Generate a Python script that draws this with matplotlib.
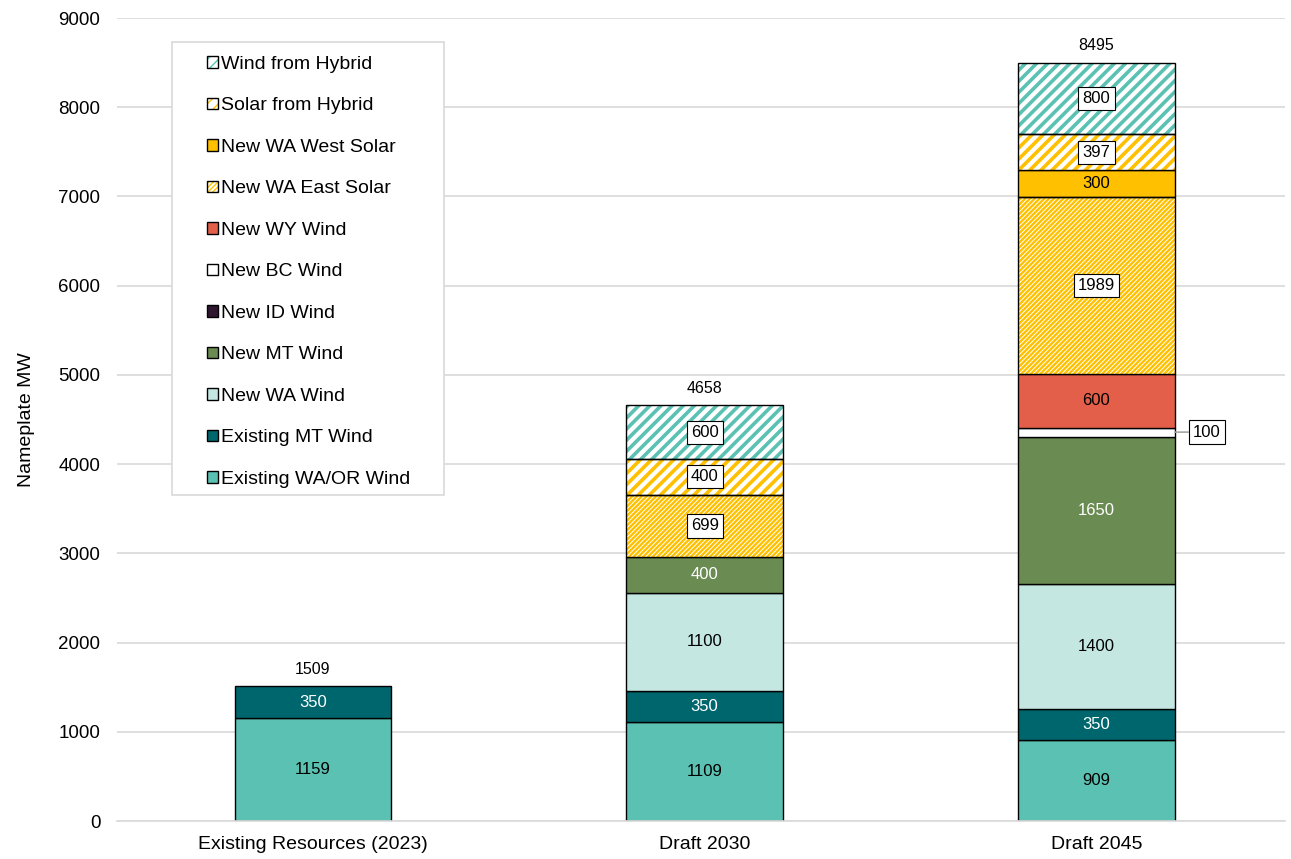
import numpy as np
import matplotlib.pyplot as plt
from matplotlib.patches import Rectangle

plt.rcParams['font.family'] = ['Liberation Sans', 'DejaVu Sans']

scenarios = ['Existing Resources (2023)', 'Draft 2030', 'Draft 2045']

# nameplate MW per resource, one value per scenario
existing_wa_or_wind = [1159, 1109, 909]
existing_mt_wind = [350, 350, 350]
new_wa_wind = [0, 1100, 1400]
new_mt_wind = [0, 400, 1650]
new_id_wind = [0, 0, 0]
new_bc_wind = [0, 0, 100]
new_wy_wind = [0, 0, 600]
new_wa_east_solar = [0, 699, 1989]
new_wa_west_solar = [0, 0, 300]
solar_from_hybrid = [0, 400, 397]
wind_from_hybrid = [0, 600, 800]

series = [
    ('Existing WA/OR Wind', existing_wa_or_wind),
    ('Existing MT Wind', existing_mt_wind),
    ('New WA Wind', new_wa_wind),
    ('New MT Wind', new_mt_wind),
    ('New ID Wind', new_id_wind),
    ('New BC Wind', new_bc_wind),
    ('New WY Wind', new_wy_wind),
    ('New WA East Solar', new_wa_east_solar),
    ('New WA West Solar', new_wa_west_solar),
    ('Solar from Hybrid', solar_from_hybrid),
    ('Wind from Hybrid', wind_from_hybrid),
]

# colour, hatch, hatch width, label colour, boxed label
styles = {
    'Existing WA/OR Wind': ('#5BC2B3', None, 0, 'black', False),
    'Existing MT Wind': ('#00666E', None, 0, 'white', False),
    'New WA Wind': ('#C4E7E2', None, 0, 'black', False),
    'New MT Wind': ('#6A8B52', None, 0, 'white', False),
    'New ID Wind': ('#2F1730', None, 0, 'white', False),
    'New BC Wind': ('#FFFFFF', None, 0, 'black', False),
    'New WY Wind': ('#E35F4A', None, 0, 'black', False),
    'New WA East Solar': ('#FFC000', '///////', 1.7, 'black', True),
    'New WA West Solar': ('#FFC000', None, 0, 'black', False),
    'Solar from Hybrid': ('#FFC000', '///', 2.6, 'black', True),
    'Wind from Hybrid': ('#5BC2B3', '///', 2.6, 'black', True),
}


def set_hatch_width(patches, lw):
    for p in patches:
        if hasattr(p, 'set_hatch_linewidth'):
            p.set_hatch_linewidth(lw)
        else:
            plt.rcParams['hatch.linewidth'] = lw


fig = plt.figure(figsize=(12.91, 8.59), dpi=100)
ax = fig.add_axes([0.0906, 0.0442, 0.9044, 0.9348])

x = np.arange(len(scenarios))
width = 0.4
bottom = np.zeros(len(scenarios))
handles = []
for name, vals in series:
    vals = np.array(vals, dtype=float)
    color, hatch, hlw, tcolor, boxed = styles[name]
    m = vals > 0
    if hatch:
        hb = ax.bar(x[m], vals[m], width, bottom=bottom[m], color='white', edgecolor=color,
                    hatch=hatch, linewidth=0, zorder=2)
        set_hatch_width(hb.patches, hlw)
        ax.bar(x[m], vals[m], width, bottom=bottom[m], fill=False, edgecolor='black',
               linewidth=1, zorder=3)
        hp = Rectangle((0, 0), 1, 1, fc='white', ec=color, hatch=hatch, lw=0)
        set_hatch_width([hp], hlw)
        op = Rectangle((0, 0), 1, 1, fill=False, ec='black', lw=1)
        handles.append(((hp, op), name))
    else:
        ax.bar(x[m], vals[m], width, bottom=bottom[m], color=color, edgecolor='black',
               linewidth=1, zorder=2)
        handles.append((Rectangle((0, 0), 1, 1, fc=color, ec='black', lw=1), name))

    for xi, v, b0 in zip(x[m], vals[m], bottom[m]):
        yc = b0 + v / 2
        if name == 'New BC Wind':
            ax.annotate(f'{v:.0f}', xy=(xi + width / 2, yc), xytext=(23, 0),
                        textcoords='offset points', ha='center', va='center',
                        fontsize=12,
                        bbox=dict(boxstyle='square,pad=0.25', fc='white', ec='black', lw=0.8),
                        arrowprops=dict(arrowstyle='-', color='#A6A6A6', lw=1.2,
                                        shrinkA=0, shrinkB=0),
                        zorder=5)
        elif boxed:
            ax.text(xi, yc, f'{v:.0f}', ha='center', va='center', fontsize=12,
                    color=tcolor, zorder=5,
                    bbox=dict(boxstyle='square,pad=0.25', fc='white', ec='black', lw=0.8))
        else:
            ax.text(xi, yc, f'{v:.0f}', ha='center', va='center', fontsize=12,
                    color=tcolor, zorder=5)
    bottom = bottom + vals

for xi, total in zip(x, bottom):
    ax.text(xi, total + 110, f'{total:.0f}', ha='center', va='bottom', fontsize=11.5)

ax.set_xlim(-0.5, 2.48)
ax.set_ylim(0, 9000)
ax.set_yticks(np.arange(0, 9001, 1000))
ax.set_xticks(x)
ax.set_xticklabels(scenarios, fontsize=14)
ax.tick_params(axis='y', labelsize=13.5, length=0, pad=12)
ax.tick_params(axis='x', length=0, pad=11)
ax.yaxis.grid(True, color='#D9D9D9', lw=1.2)
ax.set_axisbelow(True)
for s in ['top', 'right', 'left']:
    ax.spines[s].set_visible(False)
ax.spines['bottom'].set_color('#D9D9D9')
ax.spines['bottom'].set_linewidth(1.2)
ax.set_ylabel('Nameplate MW', fontsize=14, labelpad=17)

hs = [h for h, _ in handles][::-1]
ls = [l for _, l in handles][::-1]
leg = ax.legend(hs, ls, loc='upper left', bbox_to_anchor=(0.077, 0.953),
                frameon=False, fontsize=14, handlelength=0.55, handleheight=0.55,
                handletextpad=0.2, labelspacing=1.26, borderpad=0, borderaxespad=0)
leg.set_zorder(6)
ax.add_patch(Rectangle((0.047, 0.4055), 0.233, 0.565, transform=ax.transAxes,
                       fc='white', ec='#D9D9D9', lw=1.2, zorder=5.5))

fig.savefig('out.png', dpi=100)
